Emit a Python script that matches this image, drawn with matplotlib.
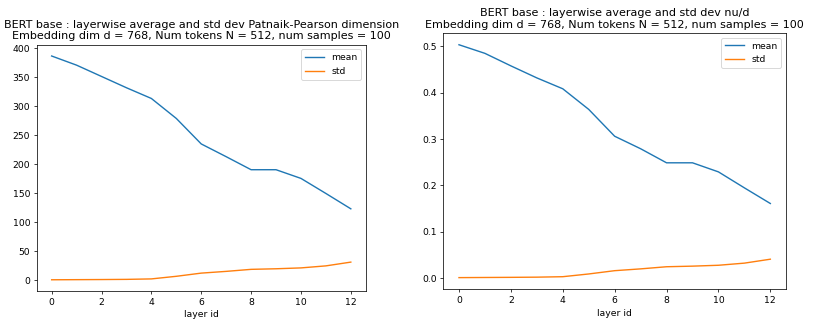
import matplotlib
matplotlib.use("Agg")
import matplotlib.pyplot as plt

# layer ids 0..12
layers = [0, 1, 2, 3, 4, 5, 6, 7, 8, 9, 10, 11, 12]

# Patnaik-Pearson dimension (left)
pp_mean = [386.8, 371, 351.5, 332, 313.5, 279, 235, 213, 190.5, 190.5, 175.5, 149.5, 123]
pp_std = [0.5, 0.7, 0.9, 1.2, 2.0, 6.5, 12, 15, 18.5, 19.5, 21, 24.5, 31]

# nu/d (right)
nud_mean = [0.5036, 0.485, 0.458, 0.432, 0.4085, 0.364, 0.306, 0.279, 0.2486, 0.2486, 0.229, 0.1945, 0.1607]
nud_std = [0.0006, 0.0009, 0.0012, 0.0016, 0.0026, 0.0085, 0.0156, 0.0195, 0.0241, 0.0254, 0.0273, 0.0319, 0.0404]

subtitle = "Embedding dim d = 768, Num tokens N = 512, num samples = 100"

dpi = 67
fig = plt.figure(figsize=(817.2 / dpi, 326.2 / dpi), dpi=dpi)

ax1 = fig.add_axes([0.0449, 0.1074, 0.4027, 0.7546])
ax1.plot(layers, pp_mean, label='mean')
ax1.plot(layers, pp_std, label='std')
ax1.set_xticks([0, 2, 4, 6, 8, 10, 12])
ax1.set_xlabel('layer id')
ax1.set_title("BERT base : layerwise average and std dev Patnaik-Pearson dimension\n" + subtitle)
ax1.legend()

ax2 = fig.add_axes([0.5426, 0.1126, 0.4191, 0.7853])
ax2.plot(layers, nud_mean, label='mean')
ax2.plot(layers, nud_std, label='std')
ax2.set_xticks([0, 2, 4, 6, 8, 10, 12])
ax2.set_xlabel('layer id')
ax2.set_title("BERT base : layerwise average and std dev nu/d\n" + subtitle)
ax2.legend()

fig.savefig('out.png', dpi=dpi)
